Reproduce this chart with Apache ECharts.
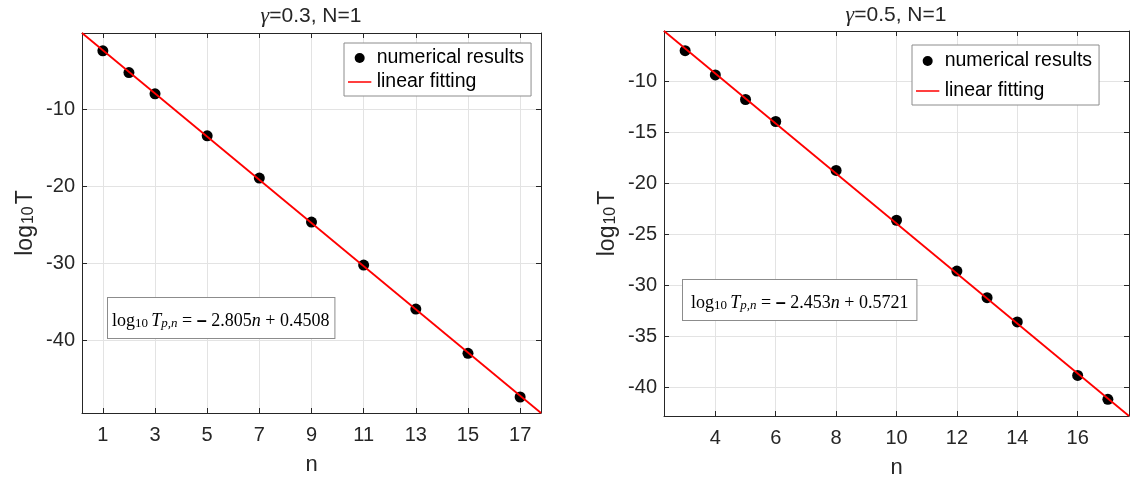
<!DOCTYPE html>
<html><head><meta charset="utf-8">
<script src="https://cdn.jsdelivr.net/npm/echarts@6/dist/echarts.min.js"></script>
<style>html,body{margin:0;padding:0;background:#fff}#c{width:1130px;height:479px}</style>
</head><body><div id="c"></div>
<script>
// ---- data ----
const leftN = [1, 2, 3, 5, 7, 9, 11, 13, 15, 17];
const leftLogT = [-2.43, -5.25, -8.01, -13.47, -18.96, -24.68, -30.26, -35.97, -41.73, -47.40];
const leftFitN = [0.2, 17.8];
const leftFitLogT = [-0.1102, -49.4782];
const leftXTicks = [1, 3, 5, 7, 9, 11, 13, 15, 17];
const leftYTicks = [-40, -30, -20, -10];

const rightN = [3, 4, 5, 6, 8, 10, 12, 13, 14, 16, 17];
const rightLogT = [-7.00, -9.38, -11.79, -13.95, -18.75, -23.64, -28.63, -31.24, -33.62, -38.86, -41.21];
const rightFitN = [2.3, 17.7];
const rightFitLogT = [-5.0698, -42.8460];
const rightXTicks = [4, 6, 8, 10, 12, 14, 16];
const rightYTicks = [-40, -35, -30, -25, -20, -15, -10];

const titleGamma = ['0.3', '0.5'];
const fitSlope = ['2.805', '2.453'];
const fitIntercept = ['0.4508', '0.5721'];
const seriesNames = ['numerical results', 'linear fitting'];

// ---- style ----
const AX = '#262626';
const GRIDC = '#e3e3e3';
const SANS = 'Liberation Sans, Arial, sans-serif';
const SERIF = 'Liberation Serif, Times New Roman, serif';

function pairs(xs, ys) { return xs.map((x, i) => [x, ys[i]]); }

function xAxis(grid, min, max, ticks, main) {
  return {
    type: 'value', gridIndex: grid, min: min, max: max,
    position: main ? 'bottom' : 'top',
    axisLine: { show: true, onZero: false, lineStyle: { color: AX, width: 1 } },
    axisTick: { show: true, inside: true, length: 5, customValues: ticks, lineStyle: { color: AX } },
    axisLabel: { show: main, customValues: ticks, color: AX, fontSize: 20, fontFamily: SANS, margin: 12 },
    splitLine: { show: main, lineStyle: { color: GRIDC, width: 1 } },
    name: main ? 'n' : '', nameLocation: 'middle', nameGap: 41,
    nameTextStyle: { color: AX, fontSize: 22, fontFamily: SANS }
  };
}
function yAxis(grid, min, max, ticks, main) {
  return {
    type: 'value', gridIndex: grid, min: min, max: max,
    position: main ? 'left' : 'right',
    axisLine: { show: true, onZero: false, lineStyle: { color: AX, width: 1 } },
    axisTick: { show: true, inside: true, length: 5, customValues: ticks, lineStyle: { color: AX } },
    axisLabel: { show: main, customValues: ticks, color: AX, fontSize: 20, fontFamily: SANS, margin: 7 },
    splitLine: { show: main, lineStyle: { color: GRIDC, width: 1 } },
    name: main ? '{a|log}{b|10}{a|T}' : '', nameLocation: 'middle', nameGap: 45,
    nameTextStyle: {
      color: AX, fontFamily: SANS,
      rich: {
        a: { fontSize: 23, fontFamily: SANS, color: AX, verticalAlign: 'bottom', lineHeight: 28 },
        b: { fontSize: 16, fontFamily: SANS, color: AX, verticalAlign: 'bottom', lineHeight: 18, padding: [0, 2, 0, 1] }
      }
    }
  };
}

function fitText(i) {
  return '{r|log}{s|10} {i|T}{si|p,n}{r| = }{b|\u2013}{r| ' + fitSlope[i] + '}{i|n}{r| + ' + fitIntercept[i] + '}';
}
const fitRich = {
  r: { fontSize: 18, fontFamily: SERIF, fill: '#000', verticalAlign: 'bottom', lineHeight: 23 },
  i: { fontSize: 18, fontFamily: SERIF, fontStyle: 'italic', fill: '#000', verticalAlign: 'bottom', lineHeight: 23 },
  s: { fontSize: 13, fontFamily: SERIF, fill: '#000', verticalAlign: 'bottom', lineHeight: 17 },
  si: { fontSize: 13, fontFamily: SERIF, fontStyle: 'italic', fill: '#000', verticalAlign: 'bottom', lineHeight: 17 },
  b: { fontSize: 18, fontFamily: SANS, fontWeight: 'bold', fill: '#000', verticalAlign: 'bottom', lineHeight: 23 }
};
const titleRich = {
  g: { fontSize: 22, fontFamily: SERIF, fontStyle: 'italic', fill: AX },
  t: { fontSize: 21, fontFamily: SANS, fill: AX }
};

const lineIcon = 'path://M0,0L0.01,0M0,5.1L28,5.1L28,6.9L0,6.9ZM28,12L27.99,12';
function legend(left, top, gap, pad) {
  return {
    data: [{ name: seriesNames[0], icon: 'circle' }, { name: seriesNames[1], icon: lineIcon }],
    orient: 'vertical', left: left, top: top,
    backgroundColor: '#fff', borderColor: '#8c8c8c', borderWidth: 1,
    padding: pad, itemGap: gap, itemWidth: 28, itemHeight: 10,
    textStyle: { color: '#000', fontSize: 19.5, fontFamily: SANS, padding: [0, 0, 0, -2] },
    selectedMode: false
  };
}

const chart = echarts.init(document.getElementById('c'), null, { renderer: 'canvas' });
const option = {
  backgroundColor: '#fff',
  animation: false,
  grid: [
    { left: 82, top: 33, width: 459, height: 380, outerBoundsMode: 'none', containLabel: false },
    { left: 664, top: 31, width: 465, height: 385, outerBoundsMode: 'none', containLabel: false }
  ],
  xAxis: [
    xAxis(0, leftFitN[0], leftFitN[1], leftXTicks, true),
    xAxis(0, leftFitN[0], leftFitN[1], leftXTicks, false),
    xAxis(1, rightFitN[0], rightFitN[1], rightXTicks, true),
    xAxis(1, rightFitN[0], rightFitN[1], rightXTicks, false)
  ],
  yAxis: [
    yAxis(0, leftFitLogT[1], leftFitLogT[0], leftYTicks, true),
    yAxis(0, leftFitLogT[1], leftFitLogT[0], leftYTicks, false),
    yAxis(1, rightFitLogT[1], rightFitLogT[0], rightYTicks, true),
    yAxis(1, rightFitLogT[1], rightFitLogT[0], rightYTicks, false)
  ],
  legend: [legend(344, 43, 4, [5, 7, 4, 4]), legend(912, 45, 10, [6, 7, 4, 4])],
  series: [
    { name: seriesNames[0], type: 'scatter', xAxisIndex: 0, yAxisIndex: 0, symbol: 'circle', symbolSize: 11,
      itemStyle: { color: '#000', opacity: 1 }, data: pairs(leftN, leftLogT), z: 2 },
    { name: seriesNames[1], type: 'line', xAxisIndex: 0, yAxisIndex: 0, symbol: 'none', showSymbol: false,
      lineStyle: { color: '#ff0000', width: 1.8 }, itemStyle: { color: '#ff0000' }, data: pairs(leftFitN, leftFitLogT), z: 3 },
    { name: seriesNames[0], type: 'scatter', xAxisIndex: 2, yAxisIndex: 2, symbol: 'circle', symbolSize: 11,
      itemStyle: { color: '#000', opacity: 1 }, data: pairs(rightN, rightLogT), z: 2 },
    { name: seriesNames[1], type: 'line', xAxisIndex: 2, yAxisIndex: 2, symbol: 'none', showSymbol: false,
      lineStyle: { color: '#ff0000', width: 1.8 }, itemStyle: { color: '#ff0000' }, data: pairs(rightFitN, rightFitLogT), z: 3 }
  ],
  graphic: [
    { type: 'text', x: 311, y: 16, style: { text: '{g|\u03b3}{t|=' + titleGamma[0] + ', N=1}', rich: titleRich, align: 'center', verticalAlign: 'middle' } },
    { type: 'text', x: 896, y: 15, style: { text: '{g|\u03b3}{t|=' + titleGamma[1] + ', N=1}', rich: titleRich, align: 'center', verticalAlign: 'middle' } },
    { type: 'text', left: 107, top: 297, z: 10,
      style: { text: fitText(0), rich: fitRich, backgroundColor: '#fff', borderColor: '#8c8c8c', borderWidth: 1, padding: [9, 5, 8, 4] } },
    { type: 'text', left: 682, top: 279, z: 10,
      style: { text: fitText(1), rich: fitRich, backgroundColor: '#fff', borderColor: '#8c8c8c', borderWidth: 1, padding: [9, 8, 8, 8] } }
  ]
};
chart.setOption(option);
</script>
</body></html>
